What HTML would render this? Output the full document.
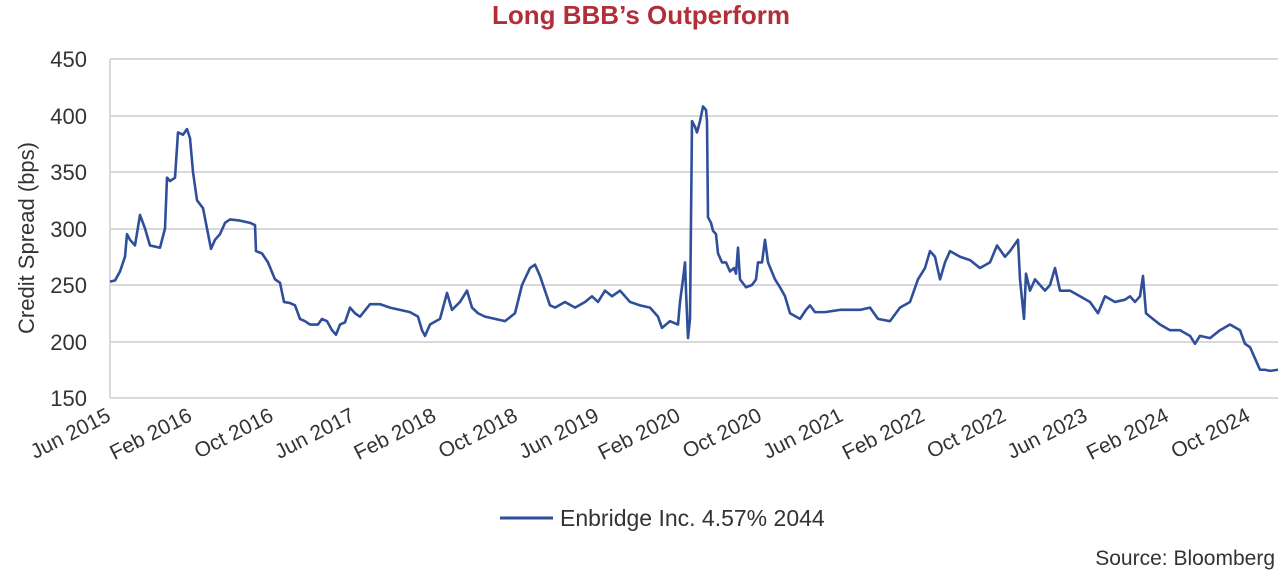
<!DOCTYPE html>
<html><head><meta charset="utf-8"><style>
html,body{margin:0;padding:0;background:#fff;}
svg{display:block;font-family:"Liberation Sans",Arial,sans-serif;}
</style></head><body>
<svg width="1280" height="575" viewBox="0 0 1280 575" xmlns="http://www.w3.org/2000/svg">
<text x="641" y="24" text-anchor="middle" font-size="26" font-weight="bold" fill="#b22f3a">Long BBB’s Outperform</text>
<g stroke="#d9d9d9" stroke-width="2">
<line x1="110" y1="59" x2="1278" y2="59"/>
<line x1="110" y1="116" x2="1278" y2="116"/>
<line x1="110" y1="172" x2="1278" y2="172"/>
<line x1="110" y1="229" x2="1278" y2="229"/>
<line x1="110" y1="285" x2="1278" y2="285"/>
<line x1="110" y1="342" x2="1278" y2="342"/>
<line x1="110" y1="398" x2="1278" y2="398"/>
<line x1="110" y1="59" x2="110" y2="398"/>
</g>
<g font-size="22" fill="#333" text-anchor="end">
<text x="87" y="67">450</text><text x="87" y="124">400</text><text x="87" y="180">350</text>
<text x="87" y="237">300</text><text x="87" y="293">250</text><text x="87" y="350">200</text><text x="87" y="406">150</text>
</g>
<text transform="translate(34,238) rotate(-90)" text-anchor="middle" font-size="22" fill="#333">Credit Spread (bps)</text>
<g font-size="21" fill="#333" text-anchor="end">
<text transform="translate(112,420) rotate(-27)">Jun 2015</text>
<text transform="translate(193.4,420) rotate(-27)">Feb 2016</text>
<text transform="translate(274.8,420) rotate(-27)">Oct 2016</text>
<text transform="translate(356.2,420) rotate(-27)">Jun 2017</text>
<text transform="translate(437.6,420) rotate(-27)">Feb 2018</text>
<text transform="translate(519,420) rotate(-27)">Oct 2018</text>
<text transform="translate(600.4,420) rotate(-27)">Jun 2019</text>
<text transform="translate(681.8,420) rotate(-27)">Feb 2020</text>
<text transform="translate(763.2,420) rotate(-27)">Oct 2020</text>
<text transform="translate(844.6,420) rotate(-27)">Jun 2021</text>
<text transform="translate(926,420) rotate(-27)">Feb 2022</text>
<text transform="translate(1007.4,420) rotate(-27)">Oct 2022</text>
<text transform="translate(1088.8,420) rotate(-27)">Jun 2023</text>
<text transform="translate(1170.2,420) rotate(-27)">Feb 2024</text>
<text transform="translate(1251.6,420) rotate(-27)">Oct 2024</text>
</g>
<polyline transform="matrix(1 0 0 -1.13 0 567.5)" vector-effect="non-scaling-stroke" fill="none" stroke="#2f4f9a" stroke-width="2.6" stroke-linejoin="round" points="110,253 115,254 120,262 125,275 127,295 130,290 135,285 140,312 145,300 150,285 160,283 165,300 167,345 170,342 175,345 178,385 183,383 187,388 190,380 193,350 197,325 203,318 207,300 211,282 215,290 220,295 225,305 230,308 240,307 250,305 255,303 256,280 262,278 268,270 275,255 280,252 284,235 290,234 295,232 300,220 305,218 310,215 318,215 322,220 327,218 332,210 336,206 340,215 345,217 350,230 355,225 360,222 370,233 380,233 390,230 400,228 410,226 418,222 422,210 425,205 430,215 440,220 447,243 452,228 460,235 467,245 472,230 478,225 485,222 495,220 505,218 515,225 522,250 530,265 535,268 540,258 545,245 550,232 555,230 565,235 575,230 585,235 592,240 598,235 605,245 612,240 620,245 630,235 640,232 650,230 658,222 662,212 670,218 678,215 680,235 683,255 685,270 686,245 688,203 690,220 692,395 695,390 697,385 700,395 703,408 706,405 707,395 708,310 711,305 713,298 716,295 718,278 722,270 726,270 730,262 734,265 736,260 738,283 740,255 746,248 752,250 756,255 758,270 762,270 765,290 768,270 775,255 780,248 785,240 790,225 800,220 806,228 810,232 815,226 825,226 840,228 860,228 870,230 878,220 890,218 900,230 910,235 918,255 925,265 930,280 935,275 940,255 945,270 950,280 960,275 970,272 980,265 990,270 997,285 1005,275 1010,280 1018,290 1020,255 1024,220 1026,260 1030,245 1035,255 1040,250 1045,245 1050,250 1055,265 1060,245 1070,245 1080,240 1090,235 1098,225 1105,240 1115,235 1125,237 1130,240 1135,235 1140,240 1143,258 1146,225 1150,222 1160,215 1170,210 1180,210 1190,205 1195,198 1200,205 1210,203 1220,210 1230,215 1240,210 1245,198 1250,195 1255,185 1260,175 1265,175 1270,174 1278,175"/>
<line x1="500" y1="518" x2="553" y2="518" stroke="#2f4f9a" stroke-width="3"/>
<text x="560" y="526" font-size="23" fill="#333">Enbridge Inc. 4.57% 2044</text>
<text x="1275" y="565" text-anchor="end" font-size="21" fill="#333">Source: Bloomberg</text>
</svg>
</body></html>
